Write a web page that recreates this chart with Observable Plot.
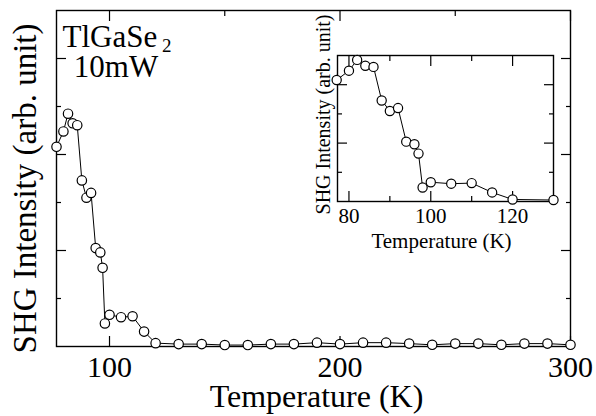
<!DOCTYPE html>
<html><head><meta charset="utf-8">
<script src="https://cdn.jsdelivr.net/npm/d3@7"></script>
<script src="https://cdn.jsdelivr.net/npm/@observablehq/plot@0.6"></script>
<style>
body{margin:0;background:#fff;}
#wrap{position:relative;width:596px;height:416px;}
#main{position:absolute;left:0;top:0;}
#inset{position:absolute;left:296px;top:0;}
</style></head><body><div id="wrap"><div id="main"></div><div id="inset"></div></div>
<script>
// Temperature (K)
const temps = [77,80,82,84,86,88,90,92,94,96,97,98,100,105,110,115,120,130,140,150,160,170,180,190,200,210,220,230,240,250,260,270,280,290,300];
// SHG intensity (arb. unit)
const shg = [4.16,4.48,4.85,4.65,4.61,3.46,3.10,3.20,2.05,1.96,1.64,0.48,0.66,0.61,0.63,0.31,0.07,0.05,0.05,0.03,0.03,0.05,0.05,0.08,0.05,0.08,0.08,0.06,0.035,0.06,0.06,0.035,0.06,0.06,0.035];

const mainXTicks = [100,200,300];
const mainXMinor = [150,250];
const mainYMajor = [2,4,6];
const mainYMinor = [1,3,5];
const insetXTicks = [80,100,120];
const insetXMinor = [90,110];
const insetYMajor = [2,4];
const insetYMinor = [1,3];
const insetMaxT = 130;
const annot = ["TlGaSe", "2", "10mW"];
const xLabel = "Temperature (K)";
const yLabel = "SHG Intensity (arb. unit)";

const data = temps.map((T, i) => ({T, v: shg[i]}));
const insetData = data.filter(d => d.T <= insetMaxT);
const font = "'Liberation Serif', 'Times New Roman', Times, serif";

function tickMarks(xMajor, xMinor, yMajor, yMinor, big, small) {
  const o = (v, s) => ({ticks: v, tickSize: -s, text: null, label: null, stroke: "black", strokeWidth: 1.2});
  return [
    Plot.axisX(xMajor, {anchor: "bottom", ...o(xMajor, big)}),
    Plot.axisX(xMinor, {anchor: "bottom", ...o(xMinor, small)}),
    Plot.axisX(xMajor, {anchor: "top", ...o(xMajor, big)}),
    Plot.axisX(xMinor, {anchor: "top", ...o(xMinor, small)}),
    Plot.axisY(yMajor, {anchor: "left", ...o(yMajor, big)}),
    Plot.axisY(yMinor, {anchor: "left", ...o(yMinor, small)}),
    Plot.axisY(yMajor, {anchor: "right", ...o(yMajor, big)}),
    Plot.axisY(yMinor, {anchor: "right", ...o(yMinor, small)})
  ];
}

const main = Plot.plot({
  width: 596, height: 416,
  marginLeft: 56, marginRight: 26, marginTop: 10, marginBottom: 70,
  x: {domain: [77, 300], label: null},
  y: {domain: [0, 7], label: null},
  style: {fontFamily: font, background: "transparent", overflow: "visible", color: "black"},
  marks: [
    Plot.frame({stroke: "black", strokeWidth: 1.4}),
    ...tickMarks(mainXTicks, mainXMinor, mainYMajor, mainYMinor, 10, 5),
    Plot.line(data, {x: "T", y: "v", stroke: "black", strokeWidth: 1}),
    Plot.dot(data, {x: "T", y: "v", r: 4.7, fill: "white", stroke: "black", strokeWidth: 1.2}),
    Plot.text(mainXTicks, {x: d => d, text: d => String(d), frameAnchor: "bottom", textAnchor: "middle", lineAnchor: "bottom", dy: 30.7, fontSize: 30, fill: "black"}),
    Plot.text([xLabel], {text: d => d, frameAnchor: "bottom", textAnchor: "middle", lineAnchor: "bottom", dx: 3, dy: 60.7, fontSize: 32, fill: "black"}),
    Plot.text([yLabel], {text: d => d, frameAnchor: "left", textAnchor: "middle", rotate: -90, lineAnchor: "middle", dx: -31, dy: 10, fontSize: 33, fill: "black"}),
    Plot.text([annot[0]], {text: d => d, frameAnchor: "top-left", textAnchor: "start", lineAnchor: "bottom", dx: 6, dy: 36, fontSize: 31, fill: "black"}),
    Plot.text([annot[1]], {text: d => d, frameAnchor: "top-left", textAnchor: "start", lineAnchor: "bottom", dx: 105.5, dy: 41.7, fontSize: 19, fill: "black"}),
    Plot.text([annot[2]], {text: d => d, frameAnchor: "top-left", textAnchor: "start", lineAnchor: "bottom", dx: 17.3, dy: 66.7, fontSize: 31, fill: "black"})
  ]
});
document.getElementById("main").appendChild(main);

const inset = Plot.plot({
  width: 267, height: 260,
  marginLeft: 41, marginRight: 10, marginTop: 55, marginBottom: 59,
  x: {domain: [77.2, 130], label: null},
  y: {domain: [0, 5], label: null},
  style: {fontFamily: font, background: "transparent", overflow: "visible", color: "black"},
  marks: [
    Plot.frame({stroke: "black", strokeWidth: 1.4}),
    ...tickMarks(insetXTicks, insetXMinor, insetYMajor, insetYMinor, 10, 5),
    Plot.line(insetData, {x: "T", y: "v", stroke: "black", strokeWidth: 1}),
    Plot.dot(insetData, {x: "T", y: "v", r: 4.6, fill: "white", stroke: "black", strokeWidth: 1.2}),
    Plot.text(insetXTicks, {x: d => d, text: d => String(d), frameAnchor: "bottom", textAnchor: "middle", lineAnchor: "bottom", dy: 21, fontSize: 21, fill: "black"}),
    Plot.text([xLabel], {text: d => d, frameAnchor: "bottom", textAnchor: "middle", lineAnchor: "bottom", dx: -4, dy: 46.7, fontSize: 21, fill: "black"}),
    Plot.text([yLabel], {text: d => d, frameAnchor: "left", textAnchor: "middle", rotate: -90, lineAnchor: "middle", dx: -14, dy: -14, fontSize: 20, fill: "black"})
  ]
});
document.getElementById("inset").appendChild(inset);
</script></body></html>
